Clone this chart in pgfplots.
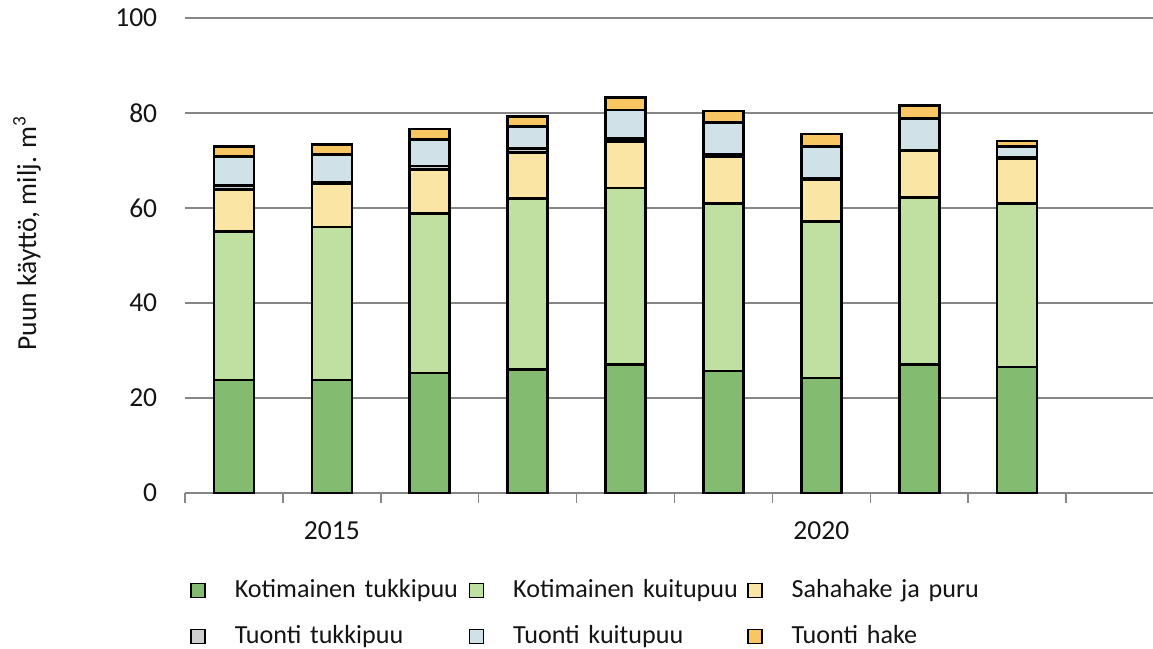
\documentclass[border=0pt]{standalone}
\usepackage{pgfplots}
\pgfplotsset{compat=1.18}
\usepackage{fontspec}
\setmainfont{Carlito}
\definecolor{cA}{RGB}{131,187,113}
\definecolor{cB}{RGB}{191,224,160}
\definecolor{cC}{RGB}{251,229,165}
\definecolor{cD}{RGB}{206,206,206}
\definecolor{cE}{RGB}{208,226,232}
\definecolor{cF}{RGB}{248,199,99}
\definecolor{gridc}{RGB}{134,134,134}
\definecolor{txt}{RGB}{20,20,20}
\pgfplotsset{
  mybar/.style={fill=#1, draw=black, line width=1.3bp,
    legend image code/.code={\draw[fill=#1, draw=black, line width=0.7bp] (0bp,-3.5bp) rectangle (7bp,3.5bp);}},
}
\begin{document}
\begin{tikzpicture}
\useasboundingbox (-92.5bp,-78bp) rectangle (484bp,246.5bp);
\begin{axis}[
  at={(0,0)}, anchor=south west,
  scale only axis, width=484bp, height=237.5bp,
  ybar stacked, bar width=20bp,
  xmin=-0.5, xmax=9.388,
  ymin=0, ymax=100,
  ytick={0,20,...,100},
  xtick={1,6}, xticklabels={2015,2020},
  minor xtick={-0.5,0.5,...,8.5},
  major tick length=0pt, minor tick length=5bp,
  tick align=outside,
  axis x line*=bottom, axis y line*=left,
  axis line style={-},
  x axis line style={draw=gridc, line width=0.75bp},
  y axis line style={draw=none},
  minor tick style={draw=gridc, line width=0.75bp},
  ymajorgrids,
  major grid style={draw=gridc, line width=0.75bp},
  /pgf/number format/assume math mode=true,
  tick label style={font=\fontsize{13.8}{16}\selectfont, text=txt},
  xticklabel style={anchor=north, yshift=-10.9bp},
  yticklabel style={anchor=east, xshift=-10.4bp},
  ylabel={Puun käyttö, milj. m\textsuperscript{3}},
  ylabel style={at={(axis description cs:-0.1632,0.547)}, anchor=center, font=\fontsize{13.8}{16}\selectfont, text=txt},
  legend columns=3,
  legend style={at={(axis description cs:0.00517,-0.1768)}, anchor=north west,
    draw=none, fill=none, inner sep=0pt, column sep=0pt, row sep=10bp,
    font=\fontsize{13.1}{15}\selectfont, text=txt,
    nodes={inner sep=0pt, text width=117bp, text height=10bp, text depth=3bp, align=left},
    /tikz/every odd column/.style={column sep=14.5bp}},
]
\addplot[mybar=cA] coordinates {(0,23.8) (1,23.8) (2,25.3) (3,26.0) (4,27.0) (5,25.7) (6,24.2) (7,27.0) (8,26.5)};
\addlegendentry{Kotimainen tukkipuu}
\addplot[mybar=cB] coordinates {(0,31.2) (1,32.2) (2,33.6) (3,36.0) (4,37.2) (5,35.3) (6,32.9) (7,35.2) (8,34.5)};
\addlegendentry{Kotimainen kuitupuu}
\addplot[mybar=cC] coordinates {(0,8.9) (1,9.05) (2,9.2) (3,9.7) (4,9.8) (5,9.8) (6,8.8) (7,9.8) (8,9.3)};
\addlegendentry{Sahahake ja puru}
\addplot[mybar=cD] coordinates {(0,0.8) (1,0.45) (2,0.7) (3,0.8) (4,0.6) (5,0.5) (6,0.4) (7,0.2) (8,0.4)};
\addlegendentry{Tuonti tukkipuu}
\addplot[mybar=cE] coordinates {(0,6.1) (1,5.7) (2,5.6) (3,4.6) (4,6.0) (5,6.7) (6,6.6) (7,6.7) (8,2.3)};
\addlegendentry{Tuonti kuitupuu}
\addplot[mybar=cF] coordinates {(0,2.1) (1,2.2) (2,2.2) (3,2.1) (4,2.6) (5,2.4) (6,2.7) (7,2.7) (8,1.1)};
\addlegendentry{Tuonti hake}
\end{axis}
\end{tikzpicture}
\end{document}
